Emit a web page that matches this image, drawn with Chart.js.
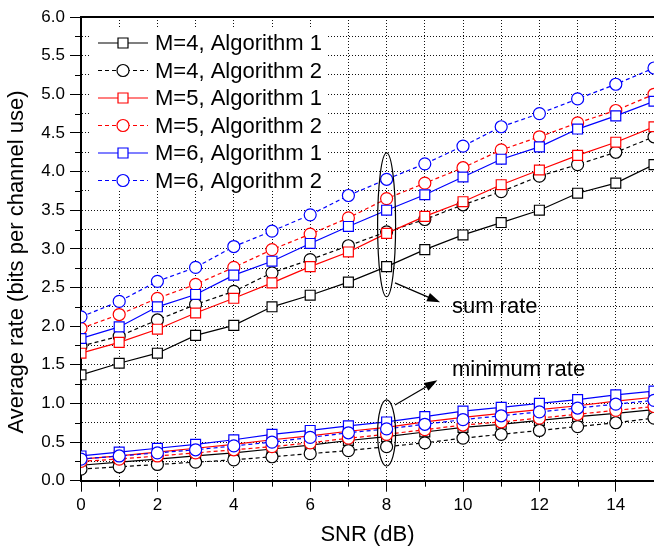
<!DOCTYPE html>
<html>
<head>
<meta charset="utf-8">
<script src="https://cdn.jsdelivr.net/npm/chart.js@4"></script>
<style>
  html, body { margin: 0; padding: 0; background: #fff; }
  #wrap { width: 654px; height: 548px; }
</style>
</head>
<body>
<div id="wrap"><canvas id="rateChart" width="654" height="548"></canvas></div>
<script>
// x values (SNR in dB)
const snr = [0, 1, 2, 3, 4, 5, 6, 7, 8, 9, 10, 11, 12, 13, 14, 15];

const seriesLabels = ['M=4, Algorithm 1', 'M=4, Algorithm 2', 'M=5, Algorithm 1',
                      'M=5, Algorithm 2', 'M=6, Algorithm 1', 'M=6, Algorithm 2'];

// sum rate curves
const sumM4A1 = [1.37, 1.52, 1.65, 1.88, 2.01, 2.25, 2.40, 2.57, 2.77, 2.99, 3.18, 3.34, 3.50, 3.72, 3.85, 4.09];
const sumM4A2 = [1.74, 1.87, 2.08, 2.28, 2.45, 2.69, 2.86, 3.04, 3.22, 3.38, 3.57, 3.74, 3.94, 4.09, 4.25, 4.45];
const sumM5A1 = [1.65, 1.79, 1.96, 2.17, 2.36, 2.56, 2.77, 2.96, 3.20, 3.42, 3.61, 3.83, 4.02, 4.21, 4.38, 4.58];
const sumM5A2 = [1.97, 2.15, 2.36, 2.54, 2.76, 2.99, 3.19, 3.40, 3.65, 3.85, 4.05, 4.28, 4.45, 4.63, 4.79, 5.00];
const sumM6A1 = [1.84, 1.99, 2.25, 2.41, 2.66, 2.84, 3.07, 3.29, 3.50, 3.70, 3.93, 4.16, 4.32, 4.55, 4.72, 4.91];
const sumM6A2 = [2.12, 2.32, 2.58, 2.76, 3.03, 3.23, 3.44, 3.69, 3.90, 4.10, 4.33, 4.58, 4.75, 4.94, 5.13, 5.34];

// minimum rate curves
const minM4A1 = [0.20, 0.24, 0.28, 0.32, 0.36, 0.41, 0.46, 0.52, 0.57, 0.63, 0.69, 0.73, 0.78, 0.83, 0.87, 0.92];
const minM4A2 = [0.15, 0.18, 0.21, 0.24, 0.27, 0.31, 0.35, 0.39, 0.44, 0.49, 0.55, 0.60, 0.65, 0.70, 0.75, 0.81];
const minM5A1 = [0.28, 0.32, 0.37, 0.42, 0.47, 0.53, 0.58, 0.64, 0.69, 0.76, 0.82, 0.87, 0.92, 0.97, 1.03, 1.08];
const minM5A2 = [0.25, 0.28, 0.32, 0.36, 0.40, 0.44, 0.49, 0.55, 0.60, 0.66, 0.72, 0.76, 0.81, 0.86, 0.91, 0.96];
const minM6A1 = [0.32, 0.37, 0.42, 0.47, 0.53, 0.60, 0.65, 0.71, 0.76, 0.83, 0.90, 0.95, 1.00, 1.05, 1.11, 1.16];
const minM6A2 = [0.28, 0.32, 0.36, 0.40, 0.45, 0.50, 0.56, 0.62, 0.67, 0.73, 0.79, 0.84, 0.89, 0.94, 0.99, 1.04];

const FONT = "'Liberation Sans', Arial, Helvetica, sans-serif";
const seriesColors = ['#000000', '#000000', '#ff0000', '#ff0000', '#0000ff', '#0000ff'];
const sumSeries = [sumM4A1, sumM4A2, sumM5A1, sumM5A2, sumM6A1, sumM6A2];
const minSeries = [minM4A1, minM4A2, minM5A1, minM5A2, minM6A1, minM6A2];

function styleFor(i) {
  const alg2 = i % 2 === 1;
  return {
    borderColor: seriesColors[i],
    pointBorderColor: seriesColors[i],
    pointBackgroundColor: '#ffffff',
    pointStyle: alg2 ? 'circle' : 'rect',
    pointRadius: alg2 ? 6 : 7,
    pointBorderWidth: 1.2,
    borderWidth: 1.2,
    borderDash: alg2 ? [4, 3] : [],
    order: 6 - i   // M=6 on top, Algorithm 2 above Algorithm 1
  };
}

const datasets = [];
sumSeries.forEach((vals, i) => {
  datasets.push(Object.assign({
    label: seriesLabels[i],
    data: snr.map((x, k) => ({ x: x, y: vals[k] })),
    tension: 0, fill: false
  }, styleFor(i)));
});
minSeries.forEach((vals, i) => {
  datasets.push(Object.assign({
    label: seriesLabels[i] + ' (min)',
    data: snr.map((x, k) => ({ x: x, y: vals[k] })),
    tension: 0, fill: false
  }, styleFor(i)));
});

// extra drawing: top frame, minor ticks, y title, ellipses/arrows, legend
const decorPlugin = {
  id: 'decor',
  afterDraw(chart) {
    const ctx = chart.ctx;
    const area = chart.chartArea;
    const xs = chart.scales.x;
    const ys = chart.scales.y;

    ctx.save();
    ctx.strokeStyle = '#000';

    // top frame line
    ctx.lineWidth = 2;
    ctx.beginPath();
    ctx.moveTo(area.left - 1, area.top);
    ctx.lineTo(area.right, area.top);
    ctx.stroke();

    // minor ticks (shorter than the major ones)
    ctx.lineWidth = 1;
    ctx.beginPath();
    for (let v = 1; v <= 15; v += 2) {
      const px = Math.round(xs.getPixelForValue(v)) + 0.5;
      ctx.moveTo(px, area.bottom);
      ctx.lineTo(px, area.bottom + 6);
    }
    for (let v = 0.25; v < 6; v += 0.5) {
      const py = Math.round(ys.getPixelForValue(v)) + 0.5;
      ctx.moveTo(area.left - 6, py);
      ctx.lineTo(area.left, py);
    }
    ctx.stroke();

    // y axis title
    ctx.fillStyle = '#000';
    ctx.font = '22px ' + FONT;
    ctx.textAlign = 'center';
    ctx.textBaseline = 'middle';
    ctx.save();
    ctx.translate(17, 262);
    ctx.rotate(-Math.PI / 2);
    ctx.fillText('Average rate (bits per channel use)', 0, 0);
    ctx.restore();

    // ellipses around x = 8
    const ex = xs.getPixelForValue(8);
    const rx = 9;
    [[2.38, 4.24], [0.19, 1.045]].forEach(([lo, hi]) => {
      const y1 = ys.getPixelForValue(hi);
      const y2 = ys.getPixelForValue(lo);
      ctx.beginPath();
      ctx.ellipse(ex, (y1 + y2) / 2, rx, (y2 - y1) / 2, 0, 0, Math.PI * 2);
      ctx.lineWidth = 1.2;
      ctx.stroke();
    });

    // arrows
    function arrow(x1, y1, x2, y2) {
      const ax = xs.getPixelForValue(x1), ay = ys.getPixelForValue(y1);
      const bx = xs.getPixelForValue(x2), by = ys.getPixelForValue(y2);
      const ang = Math.atan2(by - ay, bx - ax);
      const hl = 13, hw = 4.5;
      ctx.lineWidth = 1.2;
      ctx.beginPath();
      ctx.moveTo(ax, ay);
      ctx.lineTo(bx - Math.cos(ang) * hl * 0.8, by - Math.sin(ang) * hl * 0.8);
      ctx.stroke();
      ctx.beginPath();
      ctx.moveTo(bx, by);
      ctx.lineTo(bx - Math.cos(ang) * hl - Math.sin(ang) * hw, by - Math.sin(ang) * hl + Math.cos(ang) * hw);
      ctx.lineTo(bx - Math.cos(ang) * hl + Math.sin(ang) * hw, by - Math.sin(ang) * hl - Math.cos(ang) * hw);
      ctx.closePath();
      ctx.fill();
    }
    arrow(8.22, 2.56, 9.4, 2.31);
    arrow(8.22, 0.98, 9.33, 1.30);

    ctx.font = '22px ' + FONT;
    ctx.textAlign = 'left';
    ctx.textBaseline = 'middle';
    ctx.fillText('sum rate', xs.getPixelForValue(9.71), ys.getPixelForValue(2.25));
    ctx.fillText('minimum rate', xs.getPixelForValue(9.71), ys.getPixelForValue(1.43));

    // legend box inside the plot
    const lx = area.left + 9, ly = area.top + 12;
    ctx.fillStyle = '#fff';
    ctx.fillRect(lx, ly, 238, 162);
    for (let i = 0; i < 6; i++) {
      const st = styleFor(i);
      const y = area.top + 26 + i * 27.5;
      ctx.strokeStyle = st.borderColor;
      ctx.lineWidth = st.borderWidth;
      ctx.setLineDash(st.borderDash);
      ctx.beginPath();
      ctx.moveTo(area.left + 17, y);
      ctx.lineTo(area.left + 67, y);
      ctx.stroke();
      ctx.setLineDash([]);
      ctx.fillStyle = '#fff';
      ctx.beginPath();
      const mx = area.left + 42;
      if (st.pointStyle === 'circle') {
        ctx.arc(mx, y, 6, 0, Math.PI * 2);
      } else {
        ctx.rect(mx - 5, y - 5, 10, 10);
      }
      ctx.fill();
      ctx.stroke();
      ctx.fillStyle = '#000';
      ctx.fillText(seriesLabels[i], area.left + 74, y + 1);
    }
    ctx.restore();
  }
};

new Chart(document.getElementById('rateChart'), {
  type: 'line',
  data: { datasets: datasets },
  plugins: [decorPlugin],
  options: {
    responsive: false,
    animation: false,
    devicePixelRatio: 1,
    layout: { autoPadding: false, padding: { top: 17, right: 0, bottom: 0, left: 0 } },
    plugins: {
      legend: { display: false },
      tooltip: { enabled: false }
    },
    scales: {
      x: {
        type: 'linear',
        min: 0,
        max: 15,
        ticks: {
          stepSize: 1,
          autoSkip: false,
          maxRotation: 0,
          padding: 3,
          color: '#000',
          font: { family: FONT, size: 17 },
          callback: v => (v % 2 === 0 ? String(v) : '')
        },
        grid: {
          color: '#111',
          lineWidth: 1,
          tickLength: 11,
          tickColor: c => (c.tick && c.tick.value % 2 === 0 ? '#000' : 'rgba(0,0,0,0)')
        },
        border: { display: true, color: '#000', width: 2, dash: [1, 2] },
        title: {
          display: true,
          text: 'SNR (dB)',
          color: '#000',
          font: { family: FONT, size: 22 },
          padding: { top: 0, bottom: 0 }
        },
        afterFit: s => { s.height = 67.3; s.paddingRight = 0; }
      },
      y: {
        min: 0,
        max: 6,
        ticks: {
          stepSize: 0.25,
          autoSkip: false,
          padding: 5,
          color: '#000',
          font: { family: FONT, size: 17 },
          callback: v => (Math.abs(v * 2 - Math.round(v * 2)) < 1e-6 ? v.toFixed(1) : '')
        },
        grid: {
          color: '#111',
          lineWidth: 1,
          tickLength: 11,
          tickColor: c => (c.tick && Math.abs(c.tick.value * 2 - Math.round(c.tick.value * 2)) < 1e-6 ? '#000' : 'rgba(0,0,0,0)')
        },
        border: { display: true, color: '#000', width: 2, dash: [1, 2] },
        afterFit: s => { s.width = 81; }
      }
    }
  }
});
</script>
</body>
</html>
